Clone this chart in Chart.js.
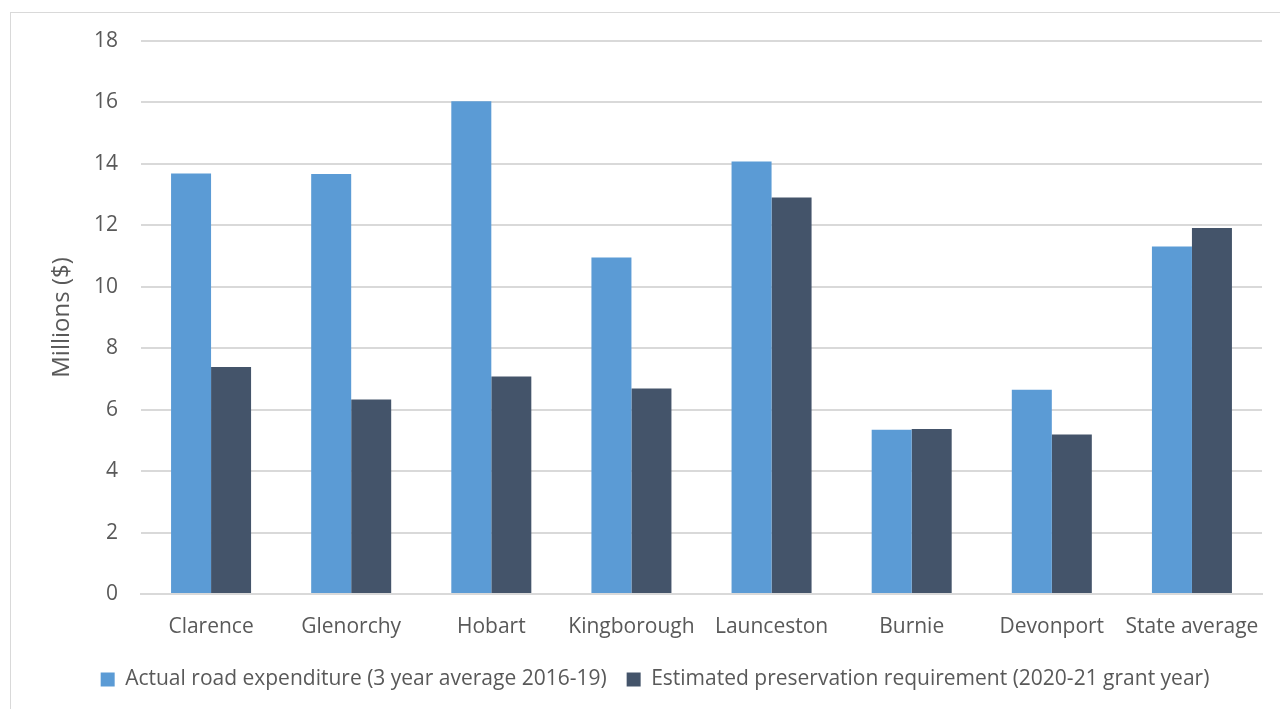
<!DOCTYPE html>
<html><head><meta charset="utf-8">
<script src="https://cdn.jsdelivr.net/npm/chart.js@4"></script>
<style>
html,body{margin:0;padding:0;background:#fff;width:1280px;height:709px;overflow:hidden;}
#frame{position:absolute;left:10px;top:12px;width:1290px;height:720px;border:1px solid #d9d9d9;box-sizing:border-box;}
#wrap{position:absolute;left:0;top:0;width:1280px;height:709px;}
</style></head>
<body>
<div id="frame"></div>
<div id="wrap"><canvas id="c" width="1280" height="709"></canvas></div>
<script>
const categories = ["Clarence","Glenorchy","Hobart","Kingborough","Launceston","Burnie","Devonport","State average"];
const actualExpenditure = [13.69, 13.67, 16.04, 10.95, 14.08, 5.35, 6.65, 11.31];
const preservationRequirement = [7.39, 6.33, 7.08, 6.69, 12.91, 5.37, 5.19, 11.91];
const yTicks = [0,2,4,6,8,10,12,14,16,18];
const seriesNames = ["Actual road expenditure (3 year average 2016-19)","Estimated preservation requirement (2020-21 grant year)"];

const FONT = "'Open Sans', sans-serif";
const TXT = "#595959";
Chart.defaults.font.family = FONT;
Chart.defaults.color = TXT;

new Chart(document.getElementById('c'), {
  type: 'bar',
  data: {
    labels: categories,
    datasets: [
      {label: seriesNames[0], data: actualExpenditure, backgroundColor: '#5B9BD5', categoryPercentage: 0.571, barPercentage: 1.0},
      {label: seriesNames[1], data: preservationRequirement, backgroundColor: '#44546A', categoryPercentage: 0.571, barPercentage: 1.0}
    ]
  },
  options: {
    responsive: false,
    animation: false,
    layout: {padding: {top: 41, right: 18, left: 48, bottom: 9}},
    plugins: {
      tooltip: {enabled: false},
      legend: {
        position: 'bottom',
        labels: {boxWidth: 14, boxHeight: 14, padding: 20, font: {size: 21}, color: TXT}
      }
    },
    scales: {
      x: {
        grid: {display: false},
        border: {color: '#d9d9d9', width: 2},
        ticks: {font: {size: 21}, color: TXT, padding: 12, maxRotation: 0},
        afterFit: (s) => { s.height = 55; }
      },
      y: {
        min: 0, max: 18,
        afterBuildTicks: (s) => { s.ticks = yTicks.map(v => ({value: v})); },
        afterFit: (s) => { s.width = 93; },
        grid: {color: '#d9d9d9', lineWidth: 2, drawTicks: false},
        border: {display: false},
        ticks: {font: {size: 21}, color: TXT, padding: 23},
        title: {display: true, text: 'Millions ($)', font: {size: 24}, color: TXT, padding: {top: 0, bottom: 0}}
      }
    }
  }
});
</script>
</body></html>
